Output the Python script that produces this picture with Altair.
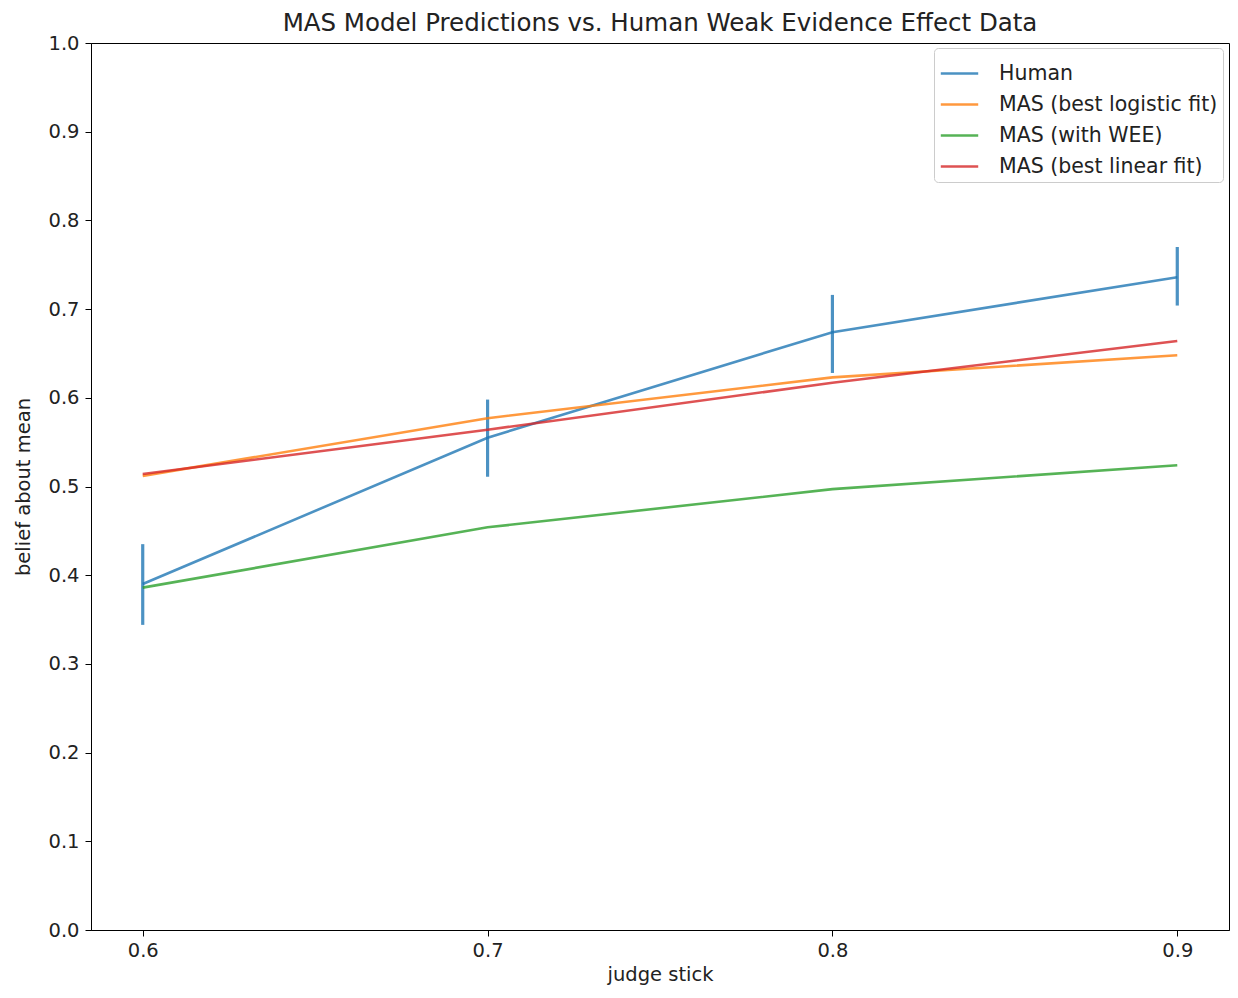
import altair as alt
import pandas as pd

x_vals = [0.6, 0.7, 0.8, 0.9]
human = [0.390, 0.555, 0.674, 0.736]
human_lo = [0.344, 0.511, 0.628, 0.704]
human_hi = [0.435, 0.598, 0.716, 0.770]
logistic = [0.512, 0.577, 0.623, 0.648]
wee = [0.386, 0.454, 0.497, 0.524]
linear = [0.514, 0.564, 0.617, 0.664]

series = ["Human", "MAS (best logistic fit)", "MAS (with WEE)", "MAS (best linear fit)"]
colors = ["#1f77b4", "#ff7f0e", "#2ca02c", "#d62728"]
y_ticks = [round(0.1 * i, 1) for i in range(11)]

rows = []
for k, (name, vals) in enumerate(zip(series, [human, logistic, wee, linear])):
    for x, y in zip(x_vals, vals):
        rows.append({"x": x, "y": y, "series": name, "order": k})
lines_df = pd.DataFrame(rows)
err_df = pd.DataFrame({"x": x_vals, "lo": human_lo, "hi": human_hi})

FONT = "DejaVu Sans"
TXT = "#222222"

xscale = alt.Scale(domain=[0.585, 0.915], nice=False, zero=False)
yscale = alt.Scale(domain=[0, 1], nice=False, zero=False)

xaxis = alt.Axis(values=x_vals, format=".1f", title="judge stick", grid=False,
                 labelPadding=5, titlePadding=6)
yaxis = alt.Axis(values=y_ticks, format=".1f", title="belief about mean", grid=False,
                 labelPadding=6, titlePadding=14)

lines = alt.Chart(lines_df).mark_line(strokeWidth=2.6, opacity=0.8).encode(
    x=alt.X("x:Q", scale=xscale, axis=xaxis),
    y=alt.Y("y:Q", scale=yscale, axis=yaxis),
    color=alt.Color(
        "series:N",
        scale=alt.Scale(domain=series, range=colors),
        sort=series,
        title=None,
        legend=alt.Legend(
            orient="none", legendX=843, legendY=5,
            symbolType="stroke", symbolSize=1400, symbolStrokeWidth=2.6,
            symbolOpacity=0.8,
            labelFont=FONT, labelFontSize=20.5, labelColor=TXT, labelLimit=400,
            strokeColor="#cccccc", fillColor="#ffffff", padding=5,
            cornerRadius=4, rowPadding=0, labelOffset=19,
        ),
    ),
    order=alt.Order("order:Q"),
)

err = alt.Chart(err_df).mark_rule(strokeWidth=3.2, opacity=0.8, color="#1f77b4").encode(
    x=alt.X("x:Q", scale=xscale),
    y=alt.Y("lo:Q", scale=yscale),
    y2="hi:Q",
)

chart = alt.layer(err, lines).properties(
    width=1138,
    height=887,
    padding={"left": 83, "top": 35, "right": 1, "bottom": 55},
    autosize=alt.AutoSizeParams(type="none"),
    title=alt.TitleParams(
        "MAS Model Predictions vs. Human Weak Evidence Effect Data",
        font=FONT, fontSize=24.5, fontWeight="normal", color=TXT,
        anchor="middle", offset=-3,
    ),
).configure_view(stroke="#000000", strokeWidth=1).configure_axis(
    labelFont=FONT, labelFontSize=19.5, labelColor=TXT,
    titleFont=FONT, titleFontSize=19.5, titleFontWeight="normal", titleColor=TXT,
    domainColor="#000000", tickColor="#000000", tickSize=6,
)

chart.save("out.html", embed_options={"renderer": "svg", "actions": False})
